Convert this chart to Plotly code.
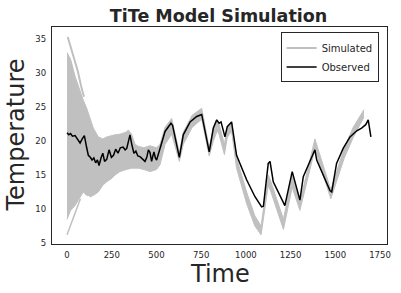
import plotly.graph_objects as go

# Observed series (time, temperature)
obs_t = [0, 10, 20, 30, 45, 60, 73, 85, 97, 110, 119, 130, 140, 150, 160, 170, 179, 190,
         200, 210, 222, 235, 248, 260, 272, 285, 298, 313, 325, 334, 345, 352, 362, 374,
         385, 396, 408, 420, 436, 446, 455, 464, 473, 480, 486, 494, 501, 520, 548, 581,
         590, 628, 650, 688, 725, 753, 795, 818, 837, 850, 861, 883, 896, 920, 948, 1004,
         1051, 1088, 1098, 1125, 1135, 1153, 1218, 1259, 1302, 1321, 1358, 1386, 1396,
         1470, 1480, 1507, 1544, 1582, 1620, 1647, 1670, 1684, 1699]
obs_T = [21.2, 20.9, 21.1, 20.7, 20.8, 20.2, 19.7, 20.3, 20.8, 19.0, 17.9, 17.6, 17.2, 17.5,
         16.8, 17.2, 16.4, 17.5, 18.2, 17.0, 17.3, 18.7, 17.6, 17.9, 18.8, 18.2, 19.0, 19.1,
         18.7, 18.9, 20.5, 20.9, 19.5, 18.2, 18.5, 17.8, 17.7, 17.4, 17.0, 17.6, 18.7, 18.3,
         17.0, 17.8, 18.4, 17.5, 17.2, 18.9, 21.4, 22.6, 22.3, 17.6, 20.9, 22.8, 23.6, 23.9,
         18.4, 21.9, 23.1, 22.6, 22.8, 20.6, 22.1, 22.8, 17.9, 14.3, 11.8, 10.3, 10.4, 16.7,
         17.0, 14.0, 10.5, 15.5, 11.3, 14.75, 17.0, 18.7, 17.2, 12.7, 12.5, 16.7, 18.9, 20.6,
         21.5, 21.9, 22.4, 23.1, 20.6]

# Simulated ensemble envelope (time, lower, upper)
sim_t = [0, 20, 45, 70, 91, 110, 119, 130, 147, 175, 200, 222, 250, 268, 296, 330, 343,
         361, 380, 400, 430, 464, 500, 520, 548, 585, 628, 650, 700, 753, 795, 818, 840,
         850, 880, 896, 920, 948, 1004, 1050, 1085, 1125, 1140, 1210, 1259, 1302, 1386,
         1475, 1550, 1600, 1660]
sim_lower = [8.5, 9.8, 10.5, 11.5, 12.5, 12.0, 12.0, 11.8, 12.0, 12.5, 13.5, 14.0, 14.5,
             15.0, 15.5, 15.8, 15.9, 16.0, 16.0, 16.0, 15.8, 15.5, 15.8, 16.5, 19.5, 21.0,
             17.0, 19.5, 22.0, 23.2, 17.8, 20.0, 21.5, 21.0, 18.0, 20.5, 21.5, 16.0, 10.8,
             7.5, 6.2, 13.5, 12.5, 7.0, 13.2, 9.8, 18.8, 11.5, 17.5, 20.5, 23.5]
sim_upper = [33.0, 32.0, 29.5, 27.5, 26.0, 24.8, 24.1, 23.2, 21.9, 20.6, 20.3, 20.6, 20.8,
             20.9, 21.0, 21.3, 21.6, 21.0, 19.5, 19.2, 19.0, 19.3, 19.0, 19.5, 22.0, 23.3,
             18.3, 21.3, 23.8, 24.8, 19.0, 21.8, 23.0, 22.5, 19.5, 22.0, 22.8, 17.5, 12.5,
             9.0, 7.5, 15.0, 14.0, 8.5, 14.8, 11.0, 20.3, 12.8, 19.0, 22.0, 24.6]

# Outlying simulated members at the start
sim_high_t = [4, 30, 60, 82, 95]
sim_high_T = [35.3, 33.0, 30.3, 27.7, 26.5]
sim_low_t = [0, 20, 40, 60, 75]
sim_low_T = [6.2, 7.6, 9.0, 10.5, 11.5]

x_ticks = [0, 250, 500, 750, 1000, 1250, 1500, 1750]
y_ticks = [5, 10, 15, 20, 25, 30, 35]

GRAY = "#c0c0c0"
DARK = "#262626"
FONT = "DejaVu Sans"

fig = go.Figure()
fig.add_trace(go.Scatter(x=sim_t, y=sim_lower, mode="lines",
                         line=dict(color=GRAY, width=1), showlegend=False,
                         hoverinfo="skip"))
fig.add_trace(go.Scatter(x=sim_t, y=sim_upper, mode="lines", fill="tonexty",
                         fillcolor=GRAY, line=dict(color=GRAY, width=1),
                         showlegend=False, hoverinfo="skip"))
fig.add_trace(go.Scatter(x=sim_low_t, y=sim_low_T, mode="lines",
                         line=dict(color=GRAY, width=1.5), showlegend=False))
fig.add_trace(go.Scatter(x=sim_high_t, y=sim_high_T, mode="lines", name="Simulated",
                         line=dict(color=GRAY, width=2)))
fig.add_trace(go.Scatter(x=obs_t, y=obs_T, mode="lines", name="Observed",
                         line=dict(color="black", width=1.5)))

axis_common = dict(showline=True, linecolor=DARK, linewidth=1.25, mirror=True,
                   showgrid=False, zeroline=False, ticks="outside", ticklen=3,
                   tickcolor="rgba(0,0,0,0)", automargin=False,
                   tickfont=dict(family=FONT, size=8.5, color=DARK))

fig.update_layout(
    width=401, height=293,
    margin=dict(l=52, r=14, t=27, b=49, autoexpand=False),
    paper_bgcolor="white", plot_bgcolor="white",
    title=dict(text="<b>TiTe Model Simulation</b>", x=0.545, xanchor="center",
               y=0.967, yanchor="top", pad=dict(t=0, b=0),
               font=dict(family=FONT, size=17.5, color=DARK)),
    xaxis=dict(range=[-84, 1789], tickvals=x_ticks, **axis_common),
    yaxis=dict(range=[4.85, 36.76], tickvals=y_ticks, **axis_common),
    legend=dict(x=0.975, y=0.975, xanchor="right", yanchor="top",
                bordercolor=DARK, borderwidth=1, bgcolor="white",
                font=dict(family=FONT, size=10, color=DARK),
                traceorder="normal", tracegroupgap=0, itemwidth=30),
    showlegend=True,
    annotations=[
        dict(text="Time", xref="paper", yref="paper", x=0.5, y=0,
             xanchor="center", yanchor="middle", yshift=-29.5, showarrow=False,
             font=dict(family=FONT, size=24, color=DARK)),
        dict(text="Temperature", xref="paper", yref="paper", x=0, y=0.5,
             xanchor="center", yanchor="middle", xshift=-37, textangle=-90,
             showarrow=False, font=dict(family=FONT, size=24, color=DARK)),
    ],
)

fig.write_html("out.html", config={"displayModeBar": False},
               post_script="document.body.style.margin='0';")
